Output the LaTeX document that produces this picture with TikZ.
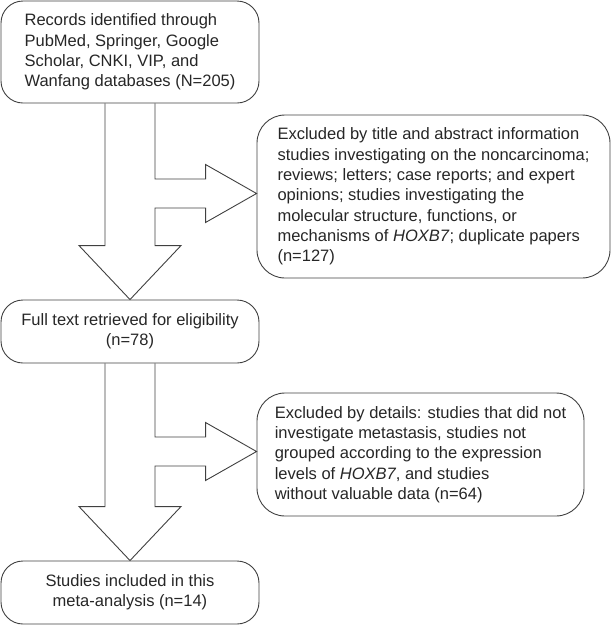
\documentclass[tikz,border=0pt]{standalone}
\usepackage{fontspec}
\setmainfont{Liberation Sans}
\usetikzlibrary{calc}
\usetikzlibrary{positioning}
\tikzset{box/.style = {draw=black!75, line width=0.9pt, rounded corners=22pt,
                       inner xsep=0pt, inner ysep=0pt, text=black!85,
                       font=\fontsize{16.5}{20.3}\selectfont},
         sidebox/.style = {box, rounded corners=28pt, align=left},
         arrowline/.style = {draw=black!75, line width=0.9pt, line join=miter}}
% block arrow: down from #1 to #2, side branch to #3
\newcommand{\blockarrow}[3]{%
  \draw [arrowline] let \p1 = (#1.south), \p2 = (#2.north), \p3 = ($(#3.west)+(0, 3)$) in
    (\x1-25pt, \y1) -- (\x1-25pt, \y2+54pt) -- (\x1-51pt, \y2+54pt) -- (\x2, \y2)
    -- (\x1+51pt, \y2+54pt) -- (\x1+25pt, \y2+54pt) -- (\x1+25pt, \y3-14.5pt)
    -- (\x3-51pt, \y3-14.5pt) -- (\x3-51pt, \y3-29pt) -- (\x3, \y3)
    -- (\x3-51pt, \y3+29pt) -- (\x3-51pt, \y3+14.5pt) -- (\x1+25pt, \y3+14.5pt)
    -- (\x1+25pt, \y1);}

\begin{document}
\begin{tikzpicture}[x=1pt, y=1pt]
      \useasboundingbox (0, 0) rectangle (611, -625);

      \node [box, minimum width=258pt, minimum height=102pt, align=left]
        (records) at (130, -52)
        {Records identified through\\ PubMed, Springer, Google\\ Scholar, CNKI, VIP, and\\ Wanfang databases (N=205)};
      \node [sidebox, minimum width=353pt, minimum height=163pt]
        (excltitle) at (433.5, -196.5)
        {Excluded by title and abstract information\\ studies investigating on the noncarcinoma;\\
         reviews; letters; case reports; and expert\\ opinions; studies investigating the\\
         molecular structure, functions, or\\ mechanisms of \textit{HOXB7}; duplicate papers\\ (n=127)};
      \node [box, minimum width=258pt, minimum height=63pt, align=center]
        (fulltext) at (130, -331.5) {Full text retrieved for eligibility\\ (n=78)};
      \node [sidebox, minimum width=327pt, minimum height=123pt]
        (excldetails) at (420.5, -454.5)
        {Excluded by details: studies that did not\\ investigate metastasis, studies not\\
         grouped according to the expression\\ levels of \textit{HOXB7}, and studies\\
         without valuable data (n=64)};
      \node [box, minimum width=258pt, minimum height=63pt, align=center]
        (included) at (130, -592.5) {Studies included in this\\ meta-analysis (n=14)};

      \blockarrow{records}{fulltext}{excltitle}
      \blockarrow{fulltext}{included}{excldetails}
\end{tikzpicture}
\end{document}
